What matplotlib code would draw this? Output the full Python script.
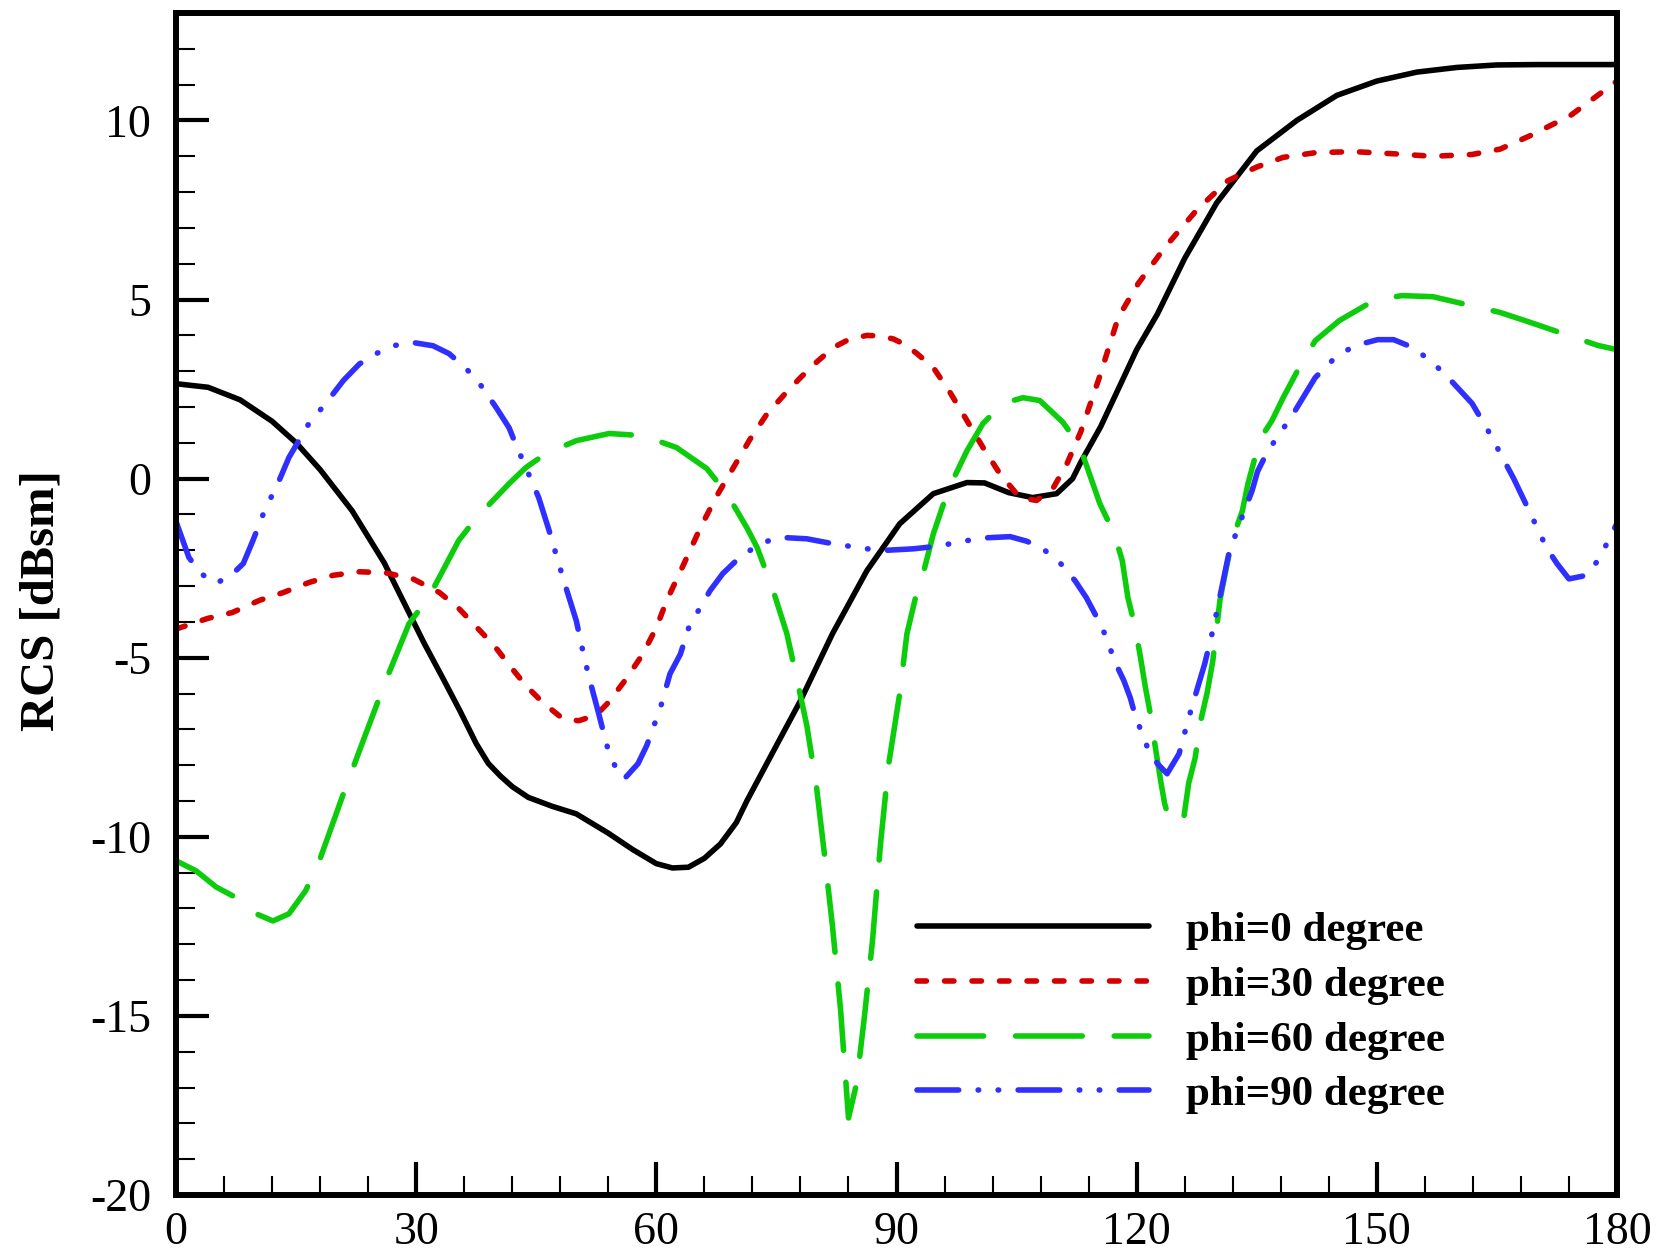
import matplotlib
matplotlib.use("Agg")
import matplotlib.pyplot as plt
from matplotlib.ticker import MultipleLocator

plt.rcParams['font.family'] = ['Liberation Serif', 'DejaVu Serif']
plt.rcParams['lines.scale_dashes'] = False
plt.rcParams['axes.unicode_minus'] = False

# phi = 0 degree
x0 = [0, 4, 8, 12, 15, 18, 22, 26, 29, 31, 33.3, 35.5, 37.5, 39, 40.5, 42, 44, 47, 50, 54, 57,
      60, 62, 64, 66, 68, 70, 71.3, 75, 78, 82, 86.3, 90.4, 94.6, 98.8, 101, 104, 107, 110, 112, 113,
      115.5, 117.7, 120, 122.6, 126, 130, 135, 140, 145, 150, 155, 160, 165, 170, 180]
rcs0 = [2.65, 2.55, 2.2, 1.6, 1.0, 0.25, -0.9, -2.35, -3.7, -4.6, -5.56, -6.5, -7.4, -7.95, -8.3, -8.6, -8.9, -9.15, -9.36, -9.9, -10.35,
        -10.75, -10.87, -10.85, -10.6, -10.2, -9.6, -9.0, -7.45, -6.2, -4.33, -2.57, -1.26, -0.42, -0.11, -0.12, -0.39, -0.53, -0.42, 0.0, 0.45,
        1.45, 2.5, 3.6, 4.6, 6.15, 7.7, 9.15, 10.0, 10.7, 11.1, 11.35, 11.48, 11.55, 11.56, 11.56]

# phi = 30 degree
x30 = [0, 4, 7, 10.4, 13.4, 16.6, 19.6, 22.9, 26.2, 29.6, 32.9, 35.3, 37.6, 39.8, 41.6, 43.7, 45.8, 48.3, 50.3, 52.5,
       54, 56.2, 58.3, 60, 61.3, 63.5, 65.5, 67.5, 69.6, 71.7, 73.8, 76, 78, 80, 82.1, 84, 86.3, 88, 89.6, 91,
       92.5, 94.6, 96.7, 98.8, 100.8, 102.9, 105.4, 107.5, 109.6, 111.3, 113, 115.3, 117.7, 120.2, 123.5, 127.5, 131.4, 135, 138.3, 142.3,
       147.1, 152.1, 157, 161.9, 165.4, 169.2, 174.2, 180]
rcs30 = [-4.2, -3.9, -3.74, -3.4, -3.18, -2.9, -2.7, -2.6, -2.63, -2.8, -3.18, -3.62, -4.16, -4.68, -5.2, -5.78, -6.25, -6.7, -6.76, -6.6,
         -6.25, -5.6, -4.9, -4.16, -3.4, -2.35, -1.37, -0.5, 0.3, 1.1, 1.8, 2.35, 2.82, 3.25, 3.66, 3.88, 4.0, 3.98, 3.9, 3.75,
         3.5, 3.1, 2.4, 1.62, 0.87, 0.14, -0.53, -0.61, -0.25, 0.42, 1.3, 2.8, 4.5, 5.45, 6.45, 7.5, 8.32, 8.7, 8.97, 9.1,
         9.13, 9.07, 9.0, 9.05, 9.2, 9.58, 10.14, 11.1]

# phi = 60 degree
x60 = [0, 2.5, 5, 7.5, 10, 12.1, 14.1, 16.2, 17.9, 20.9, 23.4, 26.2, 29.1, 31.6, 35.3, 37.5, 41.6, 43.7, 46.2, 50,
       54.1, 58.3, 62.5, 66.3, 68.8, 71.3, 72.6, 74.6, 76.3, 77.6, 78.8, 80, 81, 82, 83, 84, 85, 86, 87, 88,
       89, 90.4, 91.3, 92.5, 93.5, 94.6, 95.8, 97, 98.8, 100.8, 103.3, 105.8, 107.9, 110.8, 112.9, 115.4, 117.2, 118.2, 118.9, 119.7,
       120.4, 121.1, 121.7, 122.4, 123, 123.5, 124, 125.8, 126.5, 127.3, 128, 128.8, 129.5, 130, 130.4, 131.2, 131.9, 133.2, 133.9, 135.4,
       136.9, 138.3, 140.3, 142.3, 145.3, 149.6, 153.1, 157, 165.4, 169.2, 177.6, 180]
rcs60 = [-10.67, -10.95, -11.4, -11.7, -12.15, -12.35, -12.15, -11.5, -10.67, -8.8, -7.3, -5.64, -4.05, -3.3, -1.73, -1.1, -0.14, 0.31, 0.7, 1.06,
         1.26, 1.2, 0.87, 0.28, -0.42, -1.37, -1.93, -3.13, -4.33, -5.64, -6.9, -8.6, -10.5, -12.5, -14.8, -17.85, -16.9, -15.0, -12.9, -10.2,
         -8.0, -6.0, -4.33, -3.2, -2.5, -1.54, -0.75, -0.06, 0.78, 1.54, 2.1, 2.26, 2.18, 1.57, 0.9, -0.7, -1.54, -2.29, -3.32, -4.05,
         -4.89, -5.84, -6.56, -7.6, -8.44, -9.08, -9.47, -9.6, -8.5, -7.8, -6.76, -5.98, -5.1, -4.16, -3.4, -2.49, -1.73, -0.9, -0.14, 1.1,
         1.62, 2.26, 3.1, 3.85, 4.41, 4.97, 5.11, 5.08, 4.64, 4.36, 3.72, 3.6]

# phi = 90 degree
x90 = [0, 1.6, 3.1, 5, 7.1, 8.4, 9.6, 11.2, 12.5, 14.1, 16.6, 18.7, 20.9, 22.9, 25, 27.1, 29.6, 32.1, 34.1, 35.8,
       37.5, 40, 41.6, 42.5, 43.7, 45.3, 46.6, 47.8, 48.7, 50, 50.8, 51.6, 52.7, 53.3, 54.1, 55, 56, 57.7, 58.8, 60.5,
       61.7, 63, 64.2, 65.5, 66.7, 68.3, 70.4, 72.6, 74.6, 76.3, 78.8, 82.1, 86.3, 88.8, 92.1, 94.6, 96.7, 98.8, 101.4, 104.2,
       106.3, 108.3, 110.5, 112.3, 113.7, 115.7, 117.4, 118.4, 119.2, 119.9, 120.7, 121.4, 122.6, 123.8, 125.3, 126.5, 127.5, 128.5, 129.5, 130.3,
       131.6, 132.4, 133.6, 134.4, 135.1, 136.4, 137.9, 139.8, 142.3, 144.8, 147.2, 150.1, 152.1, 154.5, 157, 159.5, 161.9, 164, 166.1, 167.1,
       169.2, 171.2, 172.5, 174, 176.2, 177.9, 178.9, 180]
rcs90 = [-1.2, -2.2, -2.65, -2.93, -2.65, -2.37, -1.73, -0.81, -0.25, 0.59, 1.54, 2.1, 2.74, 3.2, 3.49, 3.71, 3.8, 3.71, 3.49, 3.16,
         2.79, 1.98, 1.42, 0.92, 0.31, -0.53, -1.45, -2.37, -3.04, -3.97, -4.8, -5.56, -6.48, -7.0, -7.68, -8.1, -8.38, -7.96, -7.45, -6.4,
         -5.45, -4.9, -4.05, -3.6, -3.13, -2.65, -2.2, -1.87, -1.68, -1.65, -1.68, -1.82, -1.96, -2.0, -1.96, -1.9, -1.82, -1.73, -1.65, -1.62,
         -1.75, -1.96, -2.37, -2.85, -3.32, -4.16, -5.17, -5.64, -6.12, -6.68, -7.12, -7.54, -7.96, -8.24, -7.68, -6.68, -5.92, -5.17, -4.25, -3.4,
         -2.0, -1.54, -0.81, -0.35, 0.2, 0.78, 1.26, 1.9, 2.82, 3.38, 3.71, 3.88, 3.88, 3.66, 3.24, 2.68, 2.1, 1.3, 0.42, 0.0,
         -0.98, -1.93, -2.37, -2.8, -2.7, -2.2, -1.73, -1.25]

labels = ["phi=0 degree", "phi=30 degree", "phi=60 degree", "phi=90 degree"]
colors = ["#000000", "#d40000", "#0ccc0c", "#2f2fff"]

fig = plt.figure(figsize=(16.61, 12.51), dpi=100)
ax = fig.add_axes([0.106, 0.0448, 0.8675, 0.9448])

lw = 4
common = dict(lw=lw, solid_capstyle="round", dash_capstyle="round")
ax.plot(x0, rcs0, color=colors[0], ls="-", label=labels[0], **common)
ax.plot(x30, rcs30, color=colors[1], ls=(0, (6.8, 13)), label=labels[1], **common)
ax.plot(x60, rcs60, color=colors[2], ls=(0, (48, 23)), label=labels[2], **common)
ax.plot(x90, rcs90, color=colors[3], ls=(0, (30, 14, 0.4, 14, 0.4, 14)), label=labels[3], **common)

ax.set_xlim(0, 180)
ax.set_ylim(-20, 13)
ax.xaxis.set_major_locator(MultipleLocator(30))
ax.xaxis.set_minor_locator(MultipleLocator(6))
ax.yaxis.set_major_locator(MultipleLocator(5))
ax.yaxis.set_minor_locator(MultipleLocator(1))

for s in ax.spines.values():
    s.set_linewidth(4.3)
ax.tick_params(which="both", direction="in", top=False, right=False)
ax.tick_params(which="major", length=24, width=3, labelsize=33)
ax.tick_params(which="minor", length=14, width=1.5)
ax.tick_params(axis="x", which="major", pad=12)
ax.tick_params(axis="y", which="major", pad=18)

ax.set_ylabel("RCS [dBsm]", fontsize=35, fontweight="bold")
ax.yaxis.set_label_coords(-0.078, 0.5025)

ax.legend(loc="upper left", bbox_to_anchor=(0.514, 0.240), frameon=False,
          borderpad=0, borderaxespad=0, handlelength=5.4, handletextpad=0.86,
          labelspacing=0.36, prop={"size": 31, "weight": "bold"})

fig.savefig("out.png", dpi=100)
